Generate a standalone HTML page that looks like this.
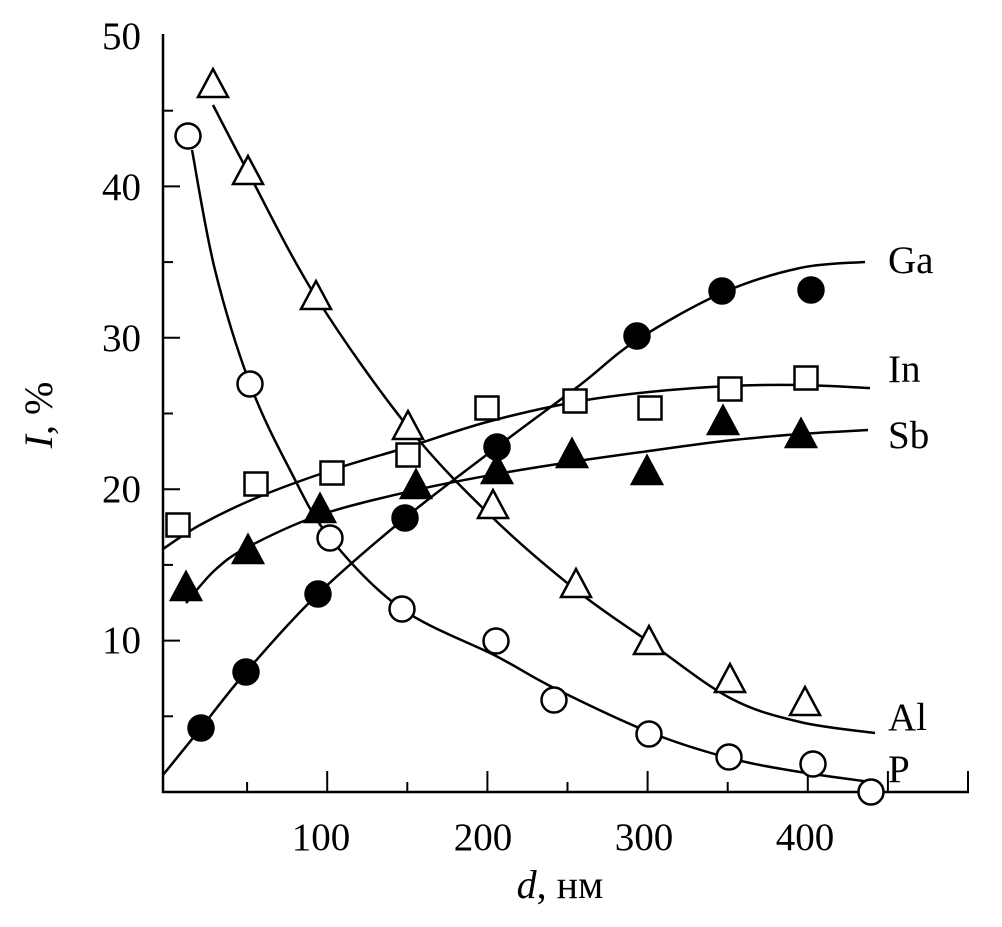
<!DOCTYPE html>
<html><head><meta charset="utf-8"><style>
html,body{margin:0;padding:0;background:#fff;}
svg{display:block;}
text{font-family:"Liberation Serif",serif;fill:#000;}
</style></head><body>
<svg id="s" width="1002" height="927" viewBox="0 0 1002 927" xmlns="http://www.w3.org/2000/svg">
<g stroke="#000" stroke-width="2.5" fill="none">
<line x1="163" y1="34" x2="163" y2="793"/>
<line x1="162" y1="792" x2="969" y2="792"/>
</g>
<g id="ticks" stroke="#000" stroke-width="2"></g>
<g font-size="39" text-anchor="end">
<text x="141" y="49">50</text><text x="141" y="200">40</text><text x="141" y="351">30</text><text x="141" y="502">20</text><text x="141" y="653">10</text>
</g>
<g font-size="39" text-anchor="middle">
<text x="321" y="850">100</text><text x="483" y="850">200</text><text x="644" y="850">300</text><text x="805" y="850">400</text>
</g>
<text x="560" y="898" font-size="40" text-anchor="middle"><tspan font-style="italic">d</tspan>, нм</text>
<text transform="translate(52,415) rotate(-90)" font-size="40" text-anchor="middle"><tspan font-style="italic">I</tspan>, %</text>
<g font-size="39">
<text x="888" y="273">Ga</text><text x="888" y="382">In</text><text x="888" y="448">Sb</text><text x="888" y="730">Al</text><text x="888" y="782">P</text>
</g>
<g id="curves" stroke="#000" stroke-width="2.5" fill="none"></g>
<g id="marks" stroke="#000" stroke-width="2.5"></g>
</svg>
<script>
var NS="http://www.w3.org/2000/svg";
function el(p,t,a){var e=document.createElementNS(NS,t);for(var k in a)e.setAttribute(k,a[k]);document.getElementById(p).appendChild(e);return e;}
for(var v=5;v<50;v+=5){var y=792-v*15.14;el("ticks","line",{x1:163,y1:y,x2:v%10?173:180,y2:y});}
for(var d=50;d<=500;d+=50){var x=167+1.602*d;el("ticks","line",{x1:x,y1:792,x2:x,y2:(d%100&&d<450)?782:771});}
function cr(p){var s="M"+p[0][0]+","+p[0][1];for(var i=0;i<p.length-1;i++){var a=p[i-1]||p[i],b=p[i],c=p[i+1],d=p[i+2]||c;
s+=" C"+(b[0]+(c[0]-a[0])/6)+","+(b[1]+(c[1]-a[1])/6)+" "+(c[0]-(d[0]-b[0])/6)+","+(c[1]-(d[1]-b[1])/6)+" "+c[0]+","+c[1];}return s;}
var curves=[
[[163,775],[201,728],[246,672],[318,594],[405,518],[497,447],[580,385],[637,340],[722,293],[800,268],[865,262]],
[[163,549],[200,525],[256,498],[332,470],[408,447],[487,422],[575,402],[649,392],[730,386],[800,385],[870,388]],
[[186,603],[215,570],[248,547],[320,515],[416,490],[497,474],[571,462],[649,451],[724,441],[800,434],[868,430]],
[[213,105],[248,172],[316,297],[408,427],[493,518],[576,590],[649,642],[730,698],[800,722],[875,733]],
[[192,150],[215,270],[250,384],[290,470],[330,538],[402,609],[496,656],[554,688],[649,732],[729,758],[800,772],[871,782]]];
curves.forEach(function(c){el("curves","path",{d:cr(c)});});
[[188,136],[250,384],[330,538],[402,609],[496,641],[554,700],[649,734],[729,757],[813,764],[871,792]].forEach(function(p){el("marks","circle",{cx:p[0],cy:p[1],r:12.5,fill:"#fff"});});
[[201,728],[246,672],[318,594],[405,518],[497,447],[637,336],[722,291],[811,290]].forEach(function(p){el("marks","circle",{cx:p[0],cy:p[1],r:12.5,fill:"#000"});});
[[178,525],[256,484],[332,473],[408,455],[487,408],[575,401],[650,408],[730,389],[806,378]].forEach(function(p){el("marks","rect",{x:p[0]-11.5,y:p[1]-11.5,width:23,height:23,fill:"#fff"});});
function tri(p,f){var x=p[0],y=p[1];el("marks","polygon",{points:(x-15)+","+(y+12)+" "+(x+15)+","+(y+12)+" "+x+","+(y-16),fill:f});}
[[213,85],[248,172],[316,297],[408,427],[493,506],[576,585],[649,642],[730,680],[805,703]].forEach(function(p){tri(p,"#fff");});
[[186,588],[248,551],[320,510],[416,486],[497,471],[572,455],[647,472],[723,422],[801,435]].forEach(function(p){tri(p,"#000");});
</script>
</body></html>
